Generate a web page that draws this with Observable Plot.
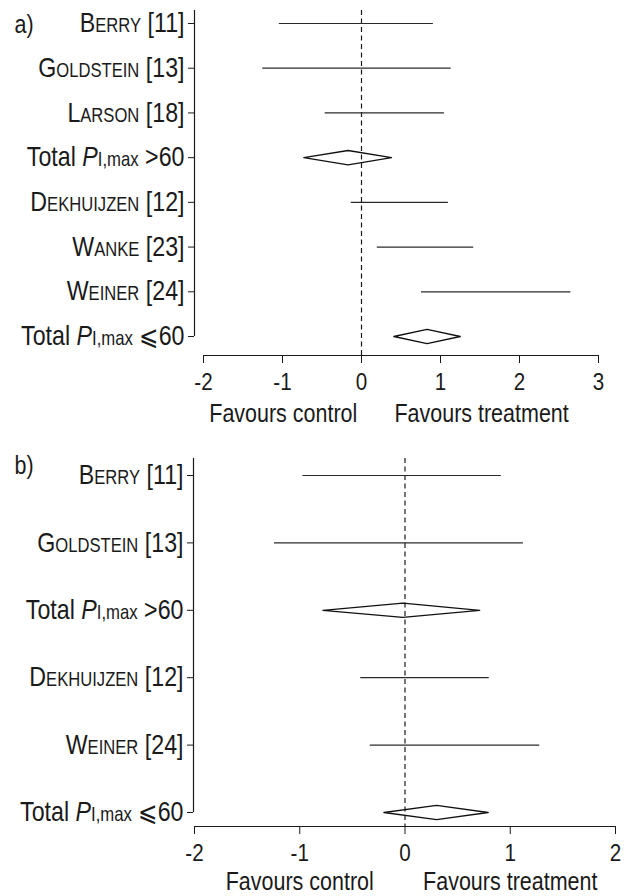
<!DOCTYPE html>
<html><head><meta charset="utf-8">
<script src="https://cdn.jsdelivr.net/npm/d3@7"></script>
<script src="https://cdn.jsdelivr.net/npm/@observablehq/plot@0.6"></script>
<style>
body{margin:0;background:#fff;}
#chart{width:624px;}
#chart svg{display:block;}
</style></head><body><div id="chart"></div>
<script>
// ---- Panel a data ----
const rowsA = ["Berry [11]","Goldstein [13]","Larson [18]","Total >60","Dekhuijzen [12]","Wanke [23]","Weiner [24]","Total ⩽60"];
const studiesA = ["Berry [11]","Goldstein [13]","Larson [18]","Dekhuijzen [12]","Wanke [23]","Weiner [24]"];
const studyLoA = [-1.04,-1.25,-0.46,-0.13,0.20,0.76];
const studyHiA = [0.91,1.135,1.05,1.10,1.42,2.65];
const totalsA = ["Total >60","Total ⩽60"];
const totalLoA = [-0.73,0.41];
const totalEstA = [-0.17,0.83];
const totalHiA = [0.38,1.25];
const xDomainA = [-2,3];
const xTicksA = [-2,-1,0,1,2,3];
const favourXA = [-0.99,1.52];

// ---- Panel b data ----
const rowsB = ["Berry [11]","Goldstein [13]","Total >60","Dekhuijzen [12]","Weiner [24]","Total ⩽60"];
const studiesB = ["Berry [11]","Goldstein [13]","Dekhuijzen [12]","Weiner [24]"];
const studyLoB = [-0.97,-1.24,-0.42,-0.33];
const studyHiB = [0.915,1.125,0.80,1.28];
const totalsB = ["Total >60","Total ⩽60"];
const totalLoB = [-0.78,-0.20];
const totalEstB = [-0.02,0.30];
const totalHiB = [0.71,0.79];
const xDomainB = [-2,2];
const xTicksB = [-2,-1,0,1,2];
const favourXB = [-1,1];

const favourLabels = ["Favours control","Favours treatment"];
const FONT = '"Liberation Sans Narrow","Arial Narrow","Liberation Sans",Arial,sans-serif';
const NARROW = 0.86; // horizontal condensing of the text (Helvetica Condensed look)

function forest(o) {
  const idx = o.rows.map((_, i) => i);
  const yOf = d => o.rows.indexOf(d);
  const diamonds = [];
  o.totals.forEach((t, i) => {
    const y = yOf(t);
    diamonds.push(
      {k: t, x: o.tlo[i], y: y},
      {k: t, x: o.test[i], y: y - o.half},
      {k: t, x: o.thi[i], y: y},
      {k: t, x: o.test[i], y: y + o.half},
      {k: t, x: o.tlo[i], y: y}
    );
  });
  const svg = Plot.plot({
    width: 624,
    height: o.height,
    marginTop: o.marginTop,
    marginBottom: o.marginBottom,
    marginLeft: o.marginLeft,
    marginRight: o.marginRight,
    style: {fontFamily: FONT, fontSize: "24px", color: "#1a1a1a", background: "white", overflow: "visible"},
    x: {domain: o.xDomain, insetLeft: o.insetLeft},
    y: {domain: [0, o.rows.length - 1], reverse: true, insetTop: o.insetTop, insetBottom: o.insetBottom},
    marks: [
      Plot.ruleX([0], {stroke: "#1a1a1a", strokeWidth: 1.2, strokeDasharray: "5,3.5"}),
      Plot.ruleX([o.xDomain[0]], {dx: -o.insetLeft, insetBottom: o.insetBottom, stroke: "#1a1a1a", strokeWidth: 1.2}),
      Plot.ruleY([o.rows.length - 1], {dy: o.insetBottom, insetLeft: o.insetLeft, stroke: "#1a1a1a", strokeWidth: 1.2}),
      Plot.ruleY(o.studies, {y: yOf, x1: o.lo, x2: o.hi, stroke: "#2a2a2a", strokeWidth: 1.2}),
      Plot.line(diamonds, {x: "x", y: "y", z: "k", stroke: "#111", strokeWidth: 1.3, fill: "none", curve: "linear"}),
      Plot.axisY({ticks: idx, tickFormat: i => o.rows[i], tickSize: 6, tickPadding: 4, fontSize: 27, label: null, anchor: "left"}),
      Plot.axisX({ticks: o.xTicks, tickFormat: d => String(d), tickSize: 8, tickPadding: 9, fontSize: 24, label: null, anchor: "bottom"}),
      Plot.text(favourLabels, {x: o.favX, frameAnchor: "bottom", lineAnchor: "middle", dy: o.favDy, fontSize: 25}),
      Plot.text([o.panel], {frameAnchor: "top-left", lineAnchor: "middle", dx: 14 - o.marginLeft, dy: o.panelDy, textAnchor: "start", fontSize: 25})
    ]
  });
  // rich formatting of the row labels
  svg.querySelectorAll('g[aria-label="y-axis tick label"] text').forEach(t => {
    const s = t.textContent;
    if (s.startsWith("Total")) {
      const suffix = s.slice(6);
      t.textContent = "";
      const ns = "http://www.w3.org/2000/svg";
      const add = (txt, attrs) => {
        const ts = document.createElementNS(ns, "tspan");
        ts.textContent = txt;
        for (const k in attrs) ts.setAttribute(k, attrs[k]);
        t.appendChild(ts);
      };
      add("Total ", {});
      add("P", {"font-style": "italic"});
      add("I,max", {"font-size": "0.72em"});
      add(" " + suffix, {});
    } else {
      t.style.fontVariant = "small-caps";
    }
  });
  // condense all text horizontally around its anchor point
  svg.querySelectorAll("text").forEach(t => {
    const tr = t.getAttribute("transform") || "";
    t.setAttribute("transform", (tr + ` scale(${NARROW},1)`).trim());
  });
  return svg;
}

const chart = document.getElementById("chart");
chart.appendChild(forest({
  rows: rowsA, studies: studiesA, lo: studyLoA, hi: studyHiA,
  totals: totalsA, tlo: totalLoA, test: totalEstA, thi: totalHiA,
  xDomain: xDomainA, xTicks: xTicksA, favX: favourXA, favDy: 58,
  height: 430, marginTop: 10, marginBottom: 75, marginLeft: 194, marginRight: 26,
  insetLeft: 9, insetTop: 13, insetBottom: 19, half: 0.16, panel: "a)", panelDy: 14
}));
chart.appendChild(forest({
  rows: rowsB, studies: studiesB, lo: studyLoB, hi: studyHiB,
  totals: totalsB, tlo: totalLoB, test: totalEstB, thi: totalHiB,
  xDomain: xDomainB, xTicks: xTicksB, favX: favourXB, favDy: 55,
  height: 466, marginTop: 28, marginBottom: 70, marginLeft: 193, marginRight: 9,
  insetLeft: 1, insetTop: 17, insetBottom: 14, half: 0.105, panel: "b)", panelDy: 7
}));
</script>
</body></html>
